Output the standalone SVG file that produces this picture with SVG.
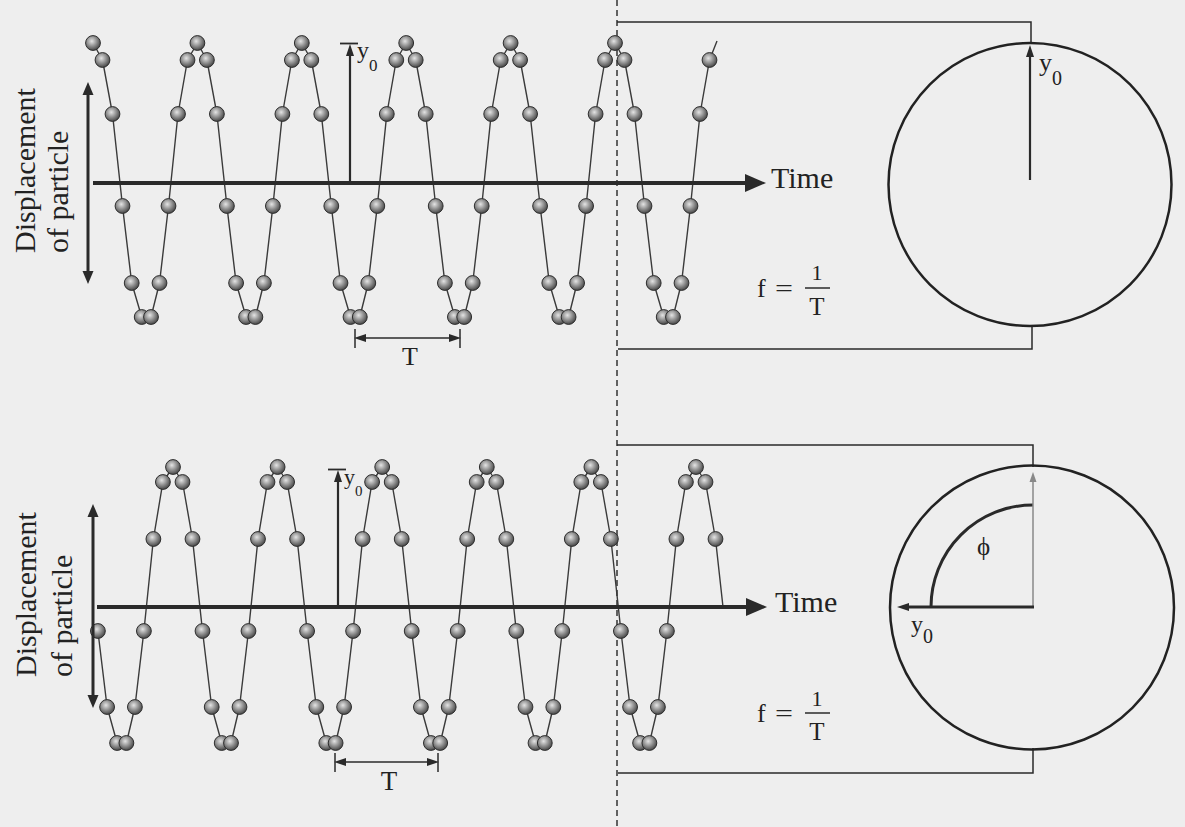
<svg xmlns="http://www.w3.org/2000/svg" xmlns:xlink="http://www.w3.org/1999/xlink" width="1185" height="827" viewBox="0 0 1185 827">
<style>
.bg{fill:#eeeeee}
.ln{stroke:#2a2a2a;fill:none}
.axis{stroke:#2a2a2a;stroke-width:4.2;fill:none}
.wave{stroke:#3a3a3a;stroke-width:1.4;fill:none;stroke-linejoin:round}
.thin{stroke:#2a2a2a;stroke-width:1.5;fill:none}
.dash{stroke:#333;stroke-width:1.5;stroke-dasharray:6 4;fill:none}
.circ{stroke:#222;stroke-width:2.5;fill:none}
text{font-family:"Liberation Serif","Times New Roman",serif;fill:#222}
.lbl{font-size:30px}
.ball{fill:url(#bg);stroke:#2e2e2e;stroke-width:1}
</style>
<defs>
<radialGradient id="bg" cx="0.42" cy="0.38" r="0.65">
<stop offset="0" stop-color="#e4e4e4"/>
<stop offset="0.45" stop-color="#9a9a9a"/>
<stop offset="1" stop-color="#404040"/>
</radialGradient>
<circle id="b" r="7.4" class="ball"/>
<marker id="ahL" markerUnits="userSpaceOnUse" markerWidth="22" markerHeight="20" refX="0" refY="10" orient="auto" overflow="visible"><path d="M0,1 L21,10 L0,19 z" fill="#2a2a2a"/></marker>
<marker id="ahM" markerUnits="userSpaceOnUse" markerWidth="14" markerHeight="12" refX="0" refY="6" orient="auto-start-reverse" overflow="visible"><path d="M0,0.5 L13,6 L0,11.5 z" fill="#2a2a2a"/></marker>
<marker id="ahS" markerUnits="userSpaceOnUse" markerWidth="12" markerHeight="8" refX="0" refY="4" orient="auto-start-reverse" overflow="visible"><path d="M0,0 L12,4 L0,8 z" fill="#2a2a2a"/></marker>
<marker id="ahG" markerUnits="userSpaceOnUse" markerWidth="11" markerHeight="8" refX="0" refY="4" orient="auto" overflow="visible"><path d="M0,0.5 L10,4 L0,7.5 z" fill="#888"/></marker>
</defs>
<rect class="bg" x="0" y="0" width="1185" height="827"/>

<g id="divider">
<line class="dash" x1="617" y1="0" x2="617" y2="827"/>
</g>

<g id="top-labels">
<text class="lbl" transform="translate(35,253) rotate(-90)">Displacement</text>
<text class="lbl" transform="translate(68,253) rotate(-90)">of particle</text>
<text class="lbl" x="771" y="188">Time</text>
</g>

<g id="top-wave">
<polyline class="wave" points="93,43 102.5,60 112.5,114 122.5,206 131.7,283 141.7,317 151,317 159.5,283 168.5,206 178,114 187.5,60 197.4,43 206.9,60 216.9,114 226.9,206 236.1,283 246.1,317 255.4,317 263.9,283 272.9,206 282.4,114 291.9,60 301.8,43 311.3,60 321.3,114 331.3,206 340.5,283 350.5,317 359.8,317 368.3,283 377.3,206 386.8,114 396.3,60 406.2,43 415.7,60 425.7,114 435.7,206 444.9,283 454.9,317 464.2,317 472.7,283 481.7,206 491.2,114 500.7,60 510.6,43 520.1,60 530.1,114 540.1,206 549.3,283 559.3,317 568.6,317 577.1,283 586.1,206 595.6,114 605.1,60 615,43 624.5,60 634.5,114 644.5,206 653.7,283 663.7,317 673,317 681.5,283 690.5,206 700,114 709.5,60 717,41"/>
<use href="#b" x="93" y="43"/><use href="#b" x="102.5" y="60"/><use href="#b" x="112.5" y="114"/><use href="#b" x="122.5" y="206"/><use href="#b" x="131.7" y="283"/><use href="#b" x="141.7" y="317"/><use href="#b" x="151" y="317"/><use href="#b" x="159.5" y="283"/><use href="#b" x="168.5" y="206"/><use href="#b" x="178" y="114"/><use href="#b" x="187.5" y="60"/>
<use href="#b" x="197.4" y="43"/><use href="#b" x="206.9" y="60"/><use href="#b" x="216.9" y="114"/><use href="#b" x="226.9" y="206"/><use href="#b" x="236.1" y="283"/><use href="#b" x="246.1" y="317"/><use href="#b" x="255.4" y="317"/><use href="#b" x="263.9" y="283"/><use href="#b" x="272.9" y="206"/><use href="#b" x="282.4" y="114"/><use href="#b" x="291.9" y="60"/>
<use href="#b" x="301.8" y="43"/><use href="#b" x="311.3" y="60"/><use href="#b" x="321.3" y="114"/><use href="#b" x="331.3" y="206"/><use href="#b" x="340.5" y="283"/><use href="#b" x="350.5" y="317"/><use href="#b" x="359.8" y="317"/><use href="#b" x="368.3" y="283"/><use href="#b" x="377.3" y="206"/><use href="#b" x="386.8" y="114"/><use href="#b" x="396.3" y="60"/>
<use href="#b" x="406.2" y="43"/><use href="#b" x="415.7" y="60"/><use href="#b" x="425.7" y="114"/><use href="#b" x="435.7" y="206"/><use href="#b" x="444.9" y="283"/><use href="#b" x="454.9" y="317"/><use href="#b" x="464.2" y="317"/><use href="#b" x="472.7" y="283"/><use href="#b" x="481.7" y="206"/><use href="#b" x="491.2" y="114"/><use href="#b" x="500.7" y="60"/>
<use href="#b" x="510.6" y="43"/><use href="#b" x="520.1" y="60"/><use href="#b" x="530.1" y="114"/><use href="#b" x="540.1" y="206"/><use href="#b" x="549.3" y="283"/><use href="#b" x="559.3" y="317"/><use href="#b" x="568.6" y="317"/><use href="#b" x="577.1" y="283"/><use href="#b" x="586.1" y="206"/><use href="#b" x="595.6" y="114"/><use href="#b" x="605.1" y="60"/>
<use href="#b" x="615" y="43"/><use href="#b" x="624.5" y="60"/><use href="#b" x="634.5" y="114"/><use href="#b" x="644.5" y="206"/><use href="#b" x="653.7" y="283"/><use href="#b" x="663.7" y="317"/><use href="#b" x="673" y="317"/><use href="#b" x="681.5" y="283"/><use href="#b" x="690.5" y="206"/><use href="#b" x="700" y="114"/><use href="#b" x="709.5" y="60"/>
</g>

<g id="top-y0">
<line class="ln" stroke-width="2.2" x1="350" y1="183" x2="350" y2="56" marker-end="url(#ahS)"/>
<line class="ln" stroke-width="1.8" x1="340" y1="43.5" x2="358" y2="43.5"/>
<text x="357" y="58" font-size="24">y<tspan dy="13" font-size="17">0</tspan></text>
</g>

<g id="top-period">
<line class="thin" x1="355" y1="329" x2="355" y2="348"/>
<line class="thin" x1="460" y1="329" x2="460" y2="348"/>
<line class="thin" x1="366" y1="338" x2="449" y2="338" marker-start="url(#ahS)" marker-end="url(#ahS)"/>
<text x="410" y="365" font-size="26" text-anchor="middle">T</text>
</g>

<g id="top-phasor">
<polyline class="thin" points="617,22 1031,22 1031,43"/>
<polyline class="thin" points="618,349 1032,349 1032,326"/>
<circle class="circ" cx="1030" cy="184.5" r="141.5"/>
<line class="ln" stroke-width="2.2" x1="1030" y1="180" x2="1030" y2="57" marker-end="url(#ahS)"/>
<text x="1039" y="71" font-size="26">y<tspan dy="14" font-size="20">0</tspan></text>
<text x="757" y="297" font-size="26">f</text>
<text x="775" y="297" font-size="26" textLength="18" lengthAdjust="spacingAndGlyphs">=</text>
<text x="817" y="280" font-size="22" text-anchor="middle">1</text>
<line class="thin" x1="805" y1="288" x2="830" y2="288"/>
<text x="817" y="315" font-size="25" text-anchor="middle">T</text>
</g>

<g id="bottom-labels">
<text class="lbl" transform="translate(36,677) rotate(-90)">Displacement</text>
<text class="lbl" transform="translate(72,677) rotate(-90)">of particle</text>
<text class="lbl" x="775" y="612">Time</text>
</g>

<g id="bottom-wave">
<polyline class="wave" points="97.9,631 107.1,707 117.1,743 126.4,743 134.9,707 143.9,631 153.4,539 162.9,482 173,467 182.5,482 192.5,539 202.5,631 211.7,707 221.7,743 231,743 239.5,707 248.5,631 258,539 267.5,482 277.6,467 287.1,482 297.1,539 307.1,631 316.3,707 326.3,743 335.6,743 344.1,707 353.1,631 362.6,539 372.1,482 382.2,467 391.7,482 401.7,539 411.7,631 420.9,707 430.9,743 440.2,743 448.7,707 457.7,631 467.2,539 476.7,482 486.8,467 496.3,482 506.3,539 516.3,631 525.5,707 535.5,743 544.8,743 553.3,707 562.3,631 571.8,539 581.3,482 591.4,467 600.9,482 610.9,539 620.9,631 630.1,707 640.1,743 649.4,743 657.9,707 666.9,631 676.4,539 685.9,482 696,467 705.5,482 715.5,539 723,607"/>
<use href="#b" x="97.9" y="631"/><use href="#b" x="107.1" y="707"/><use href="#b" x="117.1" y="743"/><use href="#b" x="126.4" y="743"/><use href="#b" x="134.9" y="707"/><use href="#b" x="143.9" y="631"/><use href="#b" x="153.4" y="539"/><use href="#b" x="162.9" y="482"/>
<use href="#b" x="173" y="467"/><use href="#b" x="182.5" y="482"/><use href="#b" x="192.5" y="539"/><use href="#b" x="202.5" y="631"/><use href="#b" x="211.7" y="707"/><use href="#b" x="221.7" y="743"/><use href="#b" x="231" y="743"/><use href="#b" x="239.5" y="707"/><use href="#b" x="248.5" y="631"/><use href="#b" x="258" y="539"/><use href="#b" x="267.5" y="482"/>
<use href="#b" x="277.6" y="467"/><use href="#b" x="287.1" y="482"/><use href="#b" x="297.1" y="539"/><use href="#b" x="307.1" y="631"/><use href="#b" x="316.3" y="707"/><use href="#b" x="326.3" y="743"/><use href="#b" x="335.6" y="743"/><use href="#b" x="344.1" y="707"/><use href="#b" x="353.1" y="631"/><use href="#b" x="362.6" y="539"/><use href="#b" x="372.1" y="482"/>
<use href="#b" x="382.2" y="467"/><use href="#b" x="391.7" y="482"/><use href="#b" x="401.7" y="539"/><use href="#b" x="411.7" y="631"/><use href="#b" x="420.9" y="707"/><use href="#b" x="430.9" y="743"/><use href="#b" x="440.2" y="743"/><use href="#b" x="448.7" y="707"/><use href="#b" x="457.7" y="631"/><use href="#b" x="467.2" y="539"/><use href="#b" x="476.7" y="482"/>
<use href="#b" x="486.8" y="467"/><use href="#b" x="496.3" y="482"/><use href="#b" x="506.3" y="539"/><use href="#b" x="516.3" y="631"/><use href="#b" x="525.5" y="707"/><use href="#b" x="535.5" y="743"/><use href="#b" x="544.8" y="743"/><use href="#b" x="553.3" y="707"/><use href="#b" x="562.3" y="631"/><use href="#b" x="571.8" y="539"/><use href="#b" x="581.3" y="482"/>
<use href="#b" x="591.4" y="467"/><use href="#b" x="600.9" y="482"/><use href="#b" x="610.9" y="539"/><use href="#b" x="620.9" y="631"/><use href="#b" x="630.1" y="707"/><use href="#b" x="640.1" y="743"/><use href="#b" x="649.4" y="743"/><use href="#b" x="657.9" y="707"/><use href="#b" x="666.9" y="631"/><use href="#b" x="676.4" y="539"/><use href="#b" x="685.9" y="482"/>
<use href="#b" x="696" y="467"/><use href="#b" x="705.5" y="482"/><use href="#b" x="715.5" y="539"/>
</g>

<g id="bottom-y0">
<line class="ln" stroke-width="2.2" x1="338" y1="607" x2="338" y2="482" marker-end="url(#ahS)"/>
<line class="ln" stroke-width="1.8" x1="328" y1="469.5" x2="346" y2="469.5"/>
<text x="344" y="484" font-size="22">y<tspan dy="12" font-size="15">0</tspan></text>
</g>

<g id="bottom-period">
<line class="thin" x1="335" y1="753" x2="335" y2="772"/>
<line class="thin" x1="438" y1="753" x2="438" y2="772"/>
<line class="thin" x1="346" y1="762" x2="427" y2="762" marker-start="url(#ahS)" marker-end="url(#ahS)"/>
<text x="389" y="790" font-size="27" text-anchor="middle">T</text>
</g>

<g id="bottom-phasor">
<polyline class="thin" points="617,445 1033,445 1033,467"/>
<polyline class="thin" points="618,773 1033,773 1033,748"/>
<circle class="circ" cx="1032" cy="607.5" r="142"/>
<path class="ln" stroke-width="3" d="M1033,505 A102,102 0 0 0 931,607"/>
<line stroke="#888" stroke-width="1.5" x1="1033" y1="607" x2="1033" y2="482" marker-end="url(#ahG)"/>
<line class="ln" stroke-width="3" x1="1034" y1="607" x2="909" y2="607" marker-end="url(#ahS)"/>
<text x="977" y="555" font-size="25" font-family="Liberation Serif, DejaVu Serif, serif">ϕ</text>
<text x="911" y="632" font-size="24">y<tspan dy="11" font-size="20">0</tspan></text>
<text x="757" y="722" font-size="26">f</text>
<text x="775" y="722" font-size="26" textLength="18" lengthAdjust="spacingAndGlyphs">=</text>
<text x="817" y="706" font-size="22" text-anchor="middle">1</text>
<line class="thin" x1="805" y1="713" x2="830" y2="713"/>
<text x="817" y="740" font-size="25" text-anchor="middle">T</text>
</g>

<g id="connectors">
<line class="axis" x1="93" y1="183" x2="745" y2="183" marker-end="url(#ahL)"/>
<line class="ln" stroke-width="3" x1="88" y1="95" x2="88" y2="271" marker-start="url(#ahM)" marker-end="url(#ahM)"/>
<line class="axis" x1="97" y1="607" x2="746" y2="607" marker-end="url(#ahL)"/>
<line class="ln" stroke-width="3" x1="93" y1="517" x2="93" y2="695" marker-start="url(#ahM)" marker-end="url(#ahM)"/>
</g>
</svg>
